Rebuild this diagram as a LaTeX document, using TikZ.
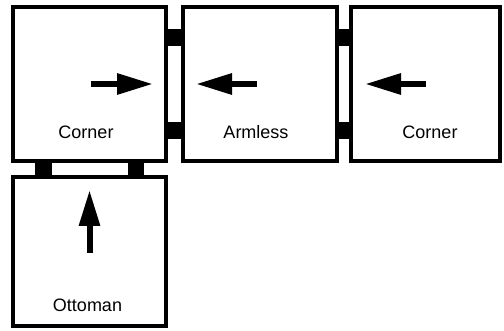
\documentclass[tikz,border=0pt]{standalone}
\usepackage{fontspec}
\setmainfont{Liberation Sans}
\usetikzlibrary{arrows.meta}
\begin{document}
\begin{tikzpicture}[x=1pt,y=-1pt,
  seat/.style={draw=black, line width=4pt, outer sep=0pt, inner sep=0pt, fill=white},
  lbl/.style={anchor=base, inner sep=0pt, font=\fontsize{18}{21}\selectfont},
  dirarrow/.style={line width=6pt, -{Triangle[length=36pt,width=20pt]}},
  link/.style={fill=black}]
\useasboundingbox (0,0) rectangle (504,331);
\fill[white] (0,0) rectangle (504,331);
% seats
\node[seat, minimum width=153pt, minimum height=154pt] (c1) at (89.5,84) {};
\node[seat, minimum width=154pt, minimum height=154pt] (ar) at (260,84) {};
\node[seat, minimum width=149pt, minimum height=154pt] (c2) at (425.5,84) {};
\node[seat, minimum width=153pt, minimum height=149pt] (ot) at (89.5,251.5) {};
% links
\fill[link] (c1.east |- 0,29) rectangle (ar.west |- 0,46);
\fill[link] (c1.east |- 0,122) rectangle (ar.west |- 0,139);
\fill[link] (ar.east |- 0,29) rectangle (c2.west |- 0,46);
\fill[link] (ar.east |- 0,122) rectangle (c2.west |- 0,139);
\fill[link] (35,0 |- c1.south) rectangle (52,0 |- ot.north);
\fill[link] (128,0 |- c1.south) rectangle (144,0 |- ot.north);
% redraw borders over links
\draw[line width=4pt] (c1.north west) rectangle (c1.south east);
\draw[line width=4pt] (ar.north west) rectangle (ar.south east);
\draw[line width=4pt] (c2.north west) rectangle (c2.south east);
\draw[line width=4pt] (ot.north west) rectangle (ot.south east);
% arrows
\coordinate (a1s) at (91,84);  \coordinate (a1e) at (153,84);
\coordinate (a2s) at (257,84); \coordinate (a2e) at (196,84);
\coordinate (a3s) at (426,84); \coordinate (a3e) at (365,84);
\coordinate (a4s) at (89.5,253); \coordinate (a4e) at (89.5,190);
\draw[dirarrow] (a1s) -- (a1e);
\draw[dirarrow] (a2s) -- (a2e);
\draw[dirarrow] (a3s) -- (a3e);
\draw[dirarrow] (a4s) -- (a4e);
% labels
\node[lbl] (l1) at (86,139) {Corner};
\node[lbl] (l2) at (256,139) {Armless};
\node[lbl] (l3) at (430,139) {Corner};
\node[lbl] (l4) at (87.5,312) {Ottoman};
\end{tikzpicture}
\end{document}
